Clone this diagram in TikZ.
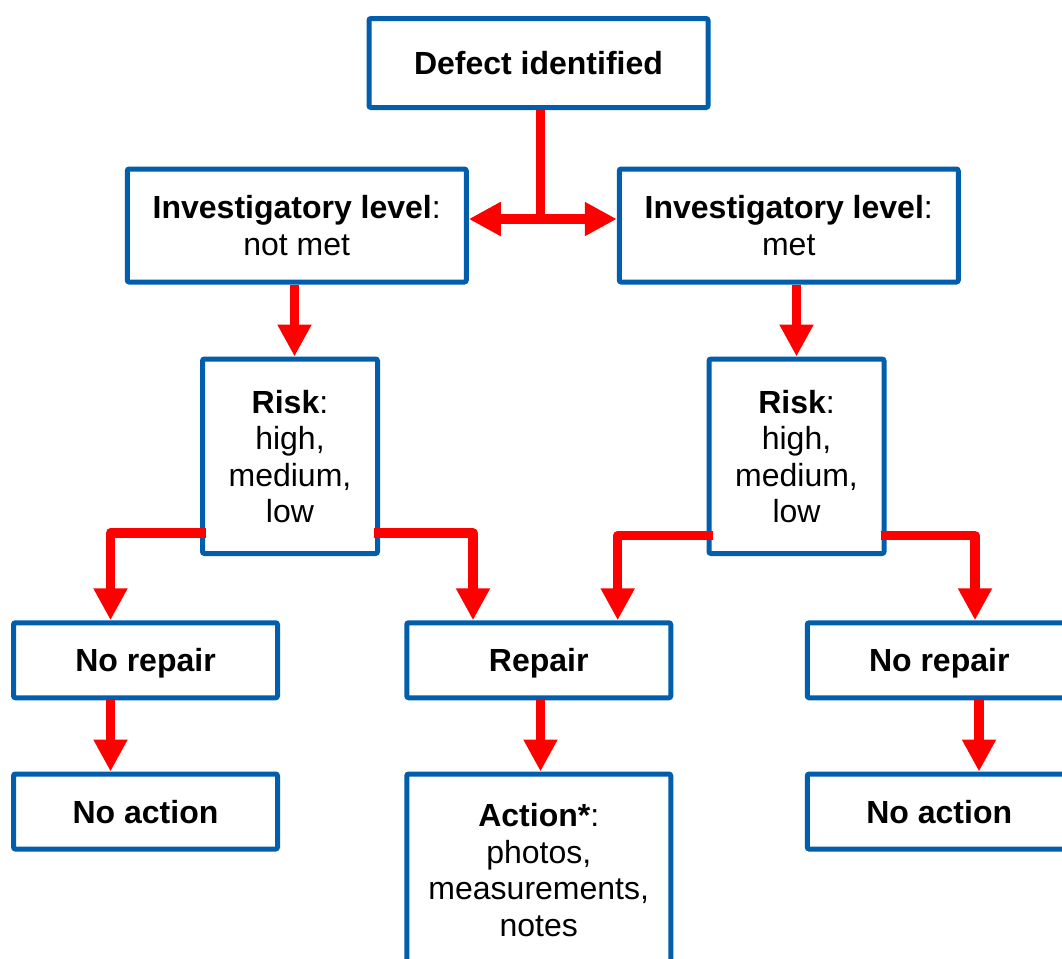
\documentclass[tikz,border=0pt]{standalone}
\usepackage{fontspec}
\setmainfont{Liberation Sans}
\usetikzlibrary{arrows.meta,calc}
\definecolor{boxblue}{RGB}{0,94,172}
\definecolor{flowred}{RGB}{255,0,0}
\begin{document}
\begin{tikzpicture}[x=0.75pt,y=-0.75pt,
  box/.style={draw=boxblue, line width=3.75pt, rounded corners=1.5pt, fill=white,
    align=center, inner sep=0pt, text depth=0pt,
    font=\fontsize{24}{27.4}\selectfont},
  widebox/.style={box, minimum width=254.25pt},
  riskbox/.style={box, minimum width=131.25pt, minimum height=145.875pt},
  endbox/.style={box, minimum width=198pt, minimum height=56.25pt},
  flow/.style={draw=flowred, line width=7pt, line join=round},
  arr/.style={flow, -{Triangle[length=24pt,width=24pt]}},
  dblarr/.style={flow, {Triangle[length=24pt,width=24pt]}-{Triangle[length=24pt,width=24pt]}}]

\useasboundingbox (0,0) rectangle (1062,958);
\clip (0,0) rectangle (1062,958);
\fill[white] (0,0) rectangle (1062,958);

% boxes
\node[widebox, minimum height=66.75pt] (defect) at (538.5,63) {\textbf{Defect identified}};
\node[widebox, minimum height=84.75pt] (invL) at (296.75,225.5) {\textbf{Investigatory level}:\\not met};
\node[widebox, minimum height=84.75pt] (invR) at (788.75,225.5) {\textbf{Investigatory level}:\\met};
\node[riskbox] (riskL) at (290,456.25) {\textbf{Risk}:\\high,\\medium,\\low};
\node[riskbox] (riskR) at (796.5,456.25) {\textbf{Risk}:\\high,\\medium,\\low};
\node[endbox] (noRepL) at (145.5,660.25) {\textbf{No repair}};
\node[endbox] (repair) at (538.75,660.25) {\textbf{Repair}};
\node[endbox] (noRepR) at (939.25,660.25) {\textbf{No repair}};
\node[endbox] (noActL) at (145.5,811.5) {\textbf{No action}};
\node[endbox, minimum height=144pt] (action) at (538.75,870) {\textbf{Action*}:\\photos,\\measurements,\\notes};
\node[endbox] (noActR) at (939.25,811.5) {\textbf{No action}};

% split below the first box
\coordinate (fork) at (540.5,219);
\draw[flow] (defect.south -| fork) -- (fork);
\draw[dblarr] (fork -| invL.east) -- (fork -| invR.west);

% investigatory level to risk
\coordinate (aL) at (294.5,0);
\draw[arr] (invL.south -| aL) -- (riskL.north -| aL);
\draw[arr] (invR.south -| riskR.north) -- (riskR.north);

% risk branches
\coordinate (bLL) at (110.5,533);
\coordinate (bLR) at (473,533);
\coordinate (bRL) at (617.7,535.7);
\coordinate (bRR) at (975,535.7);
\draw[arr] ($(riskL.west |- bLL)+(6,0)$) -- (bLL) -- (bLL |- noRepL.north);
\draw[arr] ($(riskL.east |- bLR)+(-6,0)$) -- (bLR) -- (bLR |- repair.north);
\draw[arr] ($(riskR.west |- bRL)+(6,0)$) -- (bRL) -- (bRL |- repair.north);
\draw[arr] ($(riskR.east |- bRR)+(-6,0)$) -- (bRR) -- (bRR |- noRepR.north);

% decisions to outcomes
\coordinate (dL) at (110.5,0);
\coordinate (dM) at (540.5,0);
\coordinate (dR) at (979,0);
\draw[arr] (noRepL.south -| dL) -- (noActL.north -| dL);
\draw[arr] (repair.south -| dM) -- (action.north -| dM);
\draw[arr] (noRepR.south -| dR) -- (noActR.north -| dR);
\end{tikzpicture}
\end{document}
